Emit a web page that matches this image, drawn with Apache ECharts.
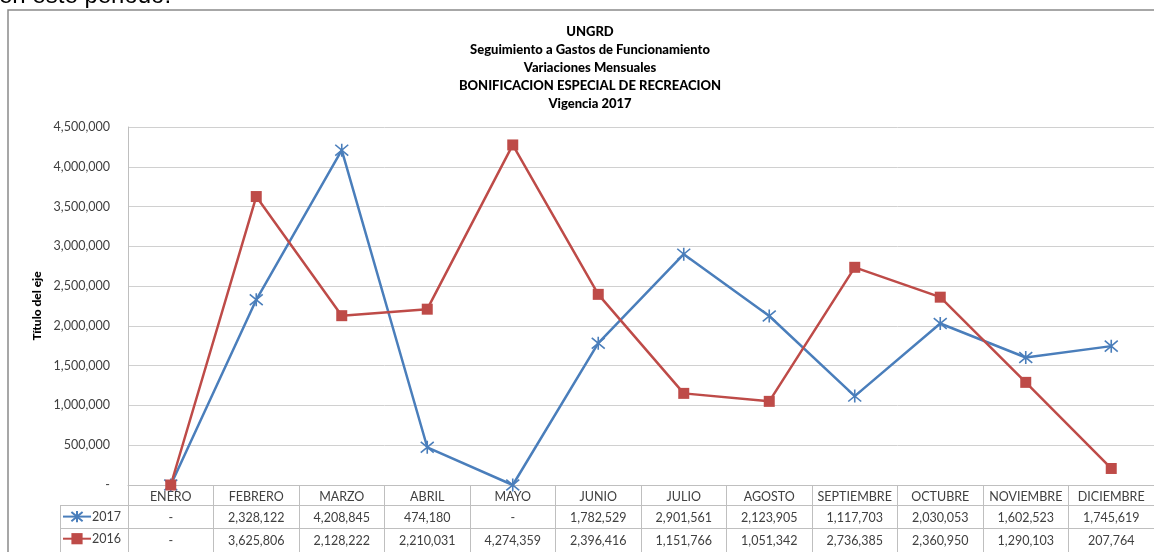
<!DOCTYPE html>
<html>
<head>
<meta charset="utf-8">
<script src="https://cdn.jsdelivr.net/npm/echarts@6/dist/echarts.min.js"></script>
<style>
html,body{margin:0;padding:0;background:#fff;}
#chart{width:1154px;height:552px;}
</style>
</head>
<body>
<div id="chart"></div>
<script>
var months = ['ENERO','FEBRERO','MARZO','ABRIL','MAYO','JUNIO','JULIO','AGOSTO','SEPTIEMBRE','OCTUBRE','NOVIEMBRE','DICIEMBRE'];
var v2017 = [0, 2328122, 4208845, 474180, 0, 1782529, 2901561, 2123905, 1117703, 2030053, 1602523, 1745619];
var v2016 = [0, 3625806, 2128222, 2210031, 4274359, 2396416, 1151766, 1051342, 2736385, 2360950, 1290103, 207764];
var seriesNames = ['2017', '2016'];
var titleLines = ['UNGRD','Seguimiento a Gastos de Funcionamiento','Variaciones Mensuales','BONIFICACION ESPECIAL DE RECREACION','Vigencia 2017'];
var yTitle = 'Título del eje';
var topText = 'en este periodo.';

function fmt(v){ return v === 0 ? '-' : v.toLocaleString('en-US'); }

var BLUE = '#4A7EBB', RED = '#BE4B48';
var GRID = '#d0d0d0', TBL = '#bfbfbf', TXT = '#404040';
var FONT = 'Lato';
var FS = 12.5;

var chart = echarts.init(document.getElementById('chart'));

var tblAxis = function(data, offset, tickLen, labelMargin){
  return {
    type: 'category', data: data, position: 'bottom', offset: offset,
    boundaryGap: true,
    axisLine: {show: true, lineStyle: {color: TBL, width: 1}},
    axisTick: {show: true, length: tickLen, lineStyle: {color: TBL, width: 1}},
    axisLabel: {interval: 0, margin: labelMargin, color: TXT, fontFamily: FONT, fontSize: FS},
    splitLine: {show: false}
  };
};

var option = {
  animation: false,
  backgroundColor: '#fff',
  title: {
    text: titleLines.join('\n'),
    left: 585, top: 18, textAlign: 'center',
    textStyle: {fontFamily: FONT, fontWeight: 900, fontSize: 13, lineHeight: 18, color: '#000'}
  },
  legend: {
    orient: 'vertical', left: 62, top: 510, itemGap: 9, padding: 0,
    itemWidth: 28, itemHeight: 14,
    data: seriesNames,
    textStyle: {fontFamily: FONT, fontSize: FS, color: TXT, padding: [0,0,0,-4]}
  },
  grid: {left: 128, top: 127, width: 1026, height: 358, containLabel: false},
  xAxis: [
    tblAxis(months, 0, 20, 5),
    tblAxis(v2017.map(fmt), 20, 23, 6),
    tblAxis(v2016.map(fmt), 43, 26, 6)
  ],
  yAxis: {
    type: 'value', min: 0, max: 4500000, interval: 500000,
    name: yTitle, nameLocation: 'middle', nameGap: 84, nameRotate: 90,
    nameTextStyle: {fontFamily: FONT, fontWeight: 900, fontSize: 12, color: '#000'},
    axisLine: {show: true, lineStyle: {color: TBL}},
    axisTick: {show: false},
    axisLabel: {margin: 18, color: TXT, fontFamily: FONT, fontSize: FS, formatter: fmt},
    splitLine: {show: true, lineStyle: {color: GRID, width: 1}}
  },
  series: [
    {
      name: seriesNames[0], type: 'line', data: v2017, xAxisIndex: 0,
      symbol: 'path://M-1,-1L1,1M-1,1L1,-1M0,-1.2L0,1.2', symbolSize: 13,
      showAllSymbol: true,
      lineStyle: {color: BLUE, width: 2.5},
      itemStyle: {color: BLUE, borderColor: BLUE, borderWidth: 1.6}
    },
    {
      name: seriesNames[1], type: 'line', data: v2016, xAxisIndex: 0,
      symbol: 'rect', symbolSize: 11,
      showAllSymbol: true,
      lineStyle: {color: RED, width: 2.5},
      itemStyle: {color: RED, borderColor: RED, borderWidth: 0}
    }
  ],
  graphic: [
    {type: 'rect', silent: true, shape: {x: 8, y: 10, width: 1200, height: 600},
     style: {fill: 'none', stroke: '#8a8a8a', lineWidth: 1.5}, z: 100},
    {type: 'text', silent: true, x: -1, y: 8,
     style: {text: topText, font: '24px "Liberation Sans"', fill: '#000', verticalAlign: 'bottom'}},
    {type: 'line', silent: true, shape: {x1: 60, y1: 505.5, x2: 128, y2: 505.5}, style: {stroke: TBL, lineWidth: 1}},
    {type: 'line', silent: true, shape: {x1: 60, y1: 528.5, x2: 128, y2: 528.5}, style: {stroke: TBL, lineWidth: 1}},
    {type: 'line', silent: true, shape: {x1: 60.5, y1: 505, x2: 60.5, y2: 552}, style: {stroke: TBL, lineWidth: 1}}
  ]
};
chart.setOption(option);
</script>
</body>
</html>
